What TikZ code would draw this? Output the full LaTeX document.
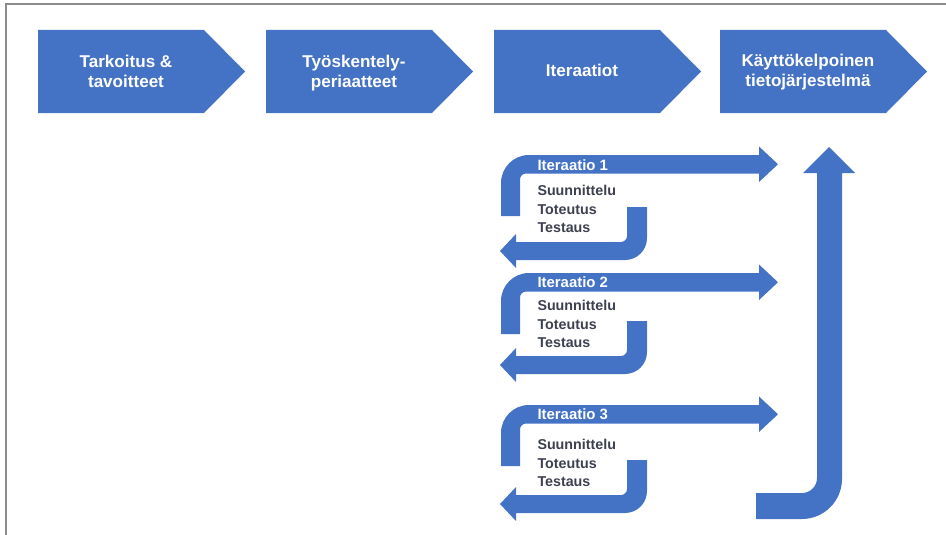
\documentclass[tikz,border=0pt]{standalone}
\usepackage{fontspec}
\setmainfont{Liberation Sans}
\usepackage{tikz}
\definecolor{arrowblue}{HTML}{4472C4}
\definecolor{framegray}{HTML}{8C8C8C}
\definecolor{listgray}{HTML}{3D4050}
\tikzset{every picture/.style={line width=0.75pt}}
\tikzset{
  blueshape/.style={fill=arrowblue,draw=none},
  headlabel/.style={text=white,inner sep=0.75pt,align=center,font=\fontsize{12.8}{15}\selectfont\bfseries},
  iterlabel/.style={text=white,inner sep=0.75pt,font=\fontsize{11.2}{12}\selectfont\bfseries},
  phaselist/.style={text=listgray,inner sep=0.75pt,align=left,font=\fontsize{10.7}{13.7}\selectfont\bfseries}
}

\begin{document}
\begin{tikzpicture}[x=0.75pt,y=0.75pt,yscale=-1,xscale=1]
\useasboundingbox (0,0) rectangle (946,535);
%frame
\draw [color=framegray,line width=1.5pt] (5,4) -- (946,4) ;
\draw [color=framegray,line width=1.5pt] (6,4) -- (6,535) ;
%phases
\draw [blueshape] (38,30) -- (204,30) -- (245,71.5) -- (204,113) -- (38,113) -- cycle ;
\draw [blueshape] (266,30) -- (432,30) -- (473,71.5) -- (432,113) -- (266,113) -- cycle ;
\draw [blueshape] (494,30) -- (660,30) -- (701,71.5) -- (660,113) -- (494,113) -- cycle ;
\draw [blueshape] (720,30) -- (886,30) -- (927,71.5) -- (886,113) -- (720,113) -- cycle ;
\draw (126,54) node (t1) [anchor=north][headlabel] {Tarkoitus \&\\tavoitteet};
\draw (354,54) node (t2) [anchor=north][headlabel] {Työskentely-\\periaatteet};
\draw (582,70) node (t3) [headlabel] {Iteraatiot};
\draw (808,53) node (t4) [anchor=north][headlabel] {Käyttökelpoinen\\tietojärjestelmä};
%iteration 1
\draw [blueshape] (501,216) -- (501,183) .. controls (501,167.5) and (513.5,155) .. (529,155) -- (759,155) -- (759,146.5) -- (778,164.25) -- (759,182) -- (759,173.5) -- (526,173.5) .. controls (522.7,173.5) and (520,176.2) .. (520,179.5) -- (520,216) -- cycle ;
\draw [blueshape] (627,207) -- (647,207) -- (647,238) .. controls (647,250.2) and (637.2,260) .. (625,260) -- (516,260) -- (516,268) -- (500,251) -- (516,234) -- (516,242) -- (621,242) .. controls (624.3,242) and (627,239.3) .. (627,236) -- cycle ;
\draw (536,165) node (it1) [anchor=west][iterlabel] {Iteraatio 1};
\draw (536,184) node (ph1) [anchor=north west][phaselist] {Suunnittelu\\Toteutus\\Testaus};
%iteration 2
\draw [blueshape] (501,334) -- (501,301) .. controls (501,285.5) and (513.5,273) .. (529,273) -- (759,273) -- (759,264.5) -- (778,282.25) -- (759,300) -- (759,291.5) -- (526,291.5) .. controls (522.7,291.5) and (520,294.2) .. (520,297.5) -- (520,334) -- cycle ;
\draw [blueshape] (627,321) -- (647,321) -- (647,352) .. controls (647,364.2) and (637.2,374) .. (625,374) -- (516,374) -- (516,382) -- (500,365) -- (516,348) -- (516,356) -- (621,356) .. controls (624.3,356) and (627,353.3) .. (627,350) -- cycle ;
\draw (536,282.5) node (it2) [anchor=west][iterlabel] {Iteraatio 2};
\draw (536,299) node (ph2) [anchor=north west][phaselist] {Suunnittelu\\Toteutus\\Testaus};
%iteration 3
\draw [blueshape] (501,466) -- (501,433) .. controls (501,417.5) and (513.5,405) .. (529,405) -- (759,405) -- (759,396.5) -- (778,414.25) -- (759,432) -- (759,423.5) -- (526,423.5) .. controls (522.7,423.5) and (520,426.2) .. (520,429.5) -- (520,466) -- cycle ;
\draw [blueshape] (627,460) -- (647,460) -- (647,491) .. controls (647,503.2) and (637.2,513) .. (625,513) -- (516,513) -- (516,521) -- (500,504) -- (516,487) -- (516,495) -- (621,495) .. controls (624.3,495) and (627,492.3) .. (627,489) -- cycle ;
\draw (536,414.5) node (it3) [anchor=west][iterlabel] {Iteraatio 3};
\draw (536,438) node (ph3) [anchor=north west][phaselist] {Suunnittelu\\Toteutus\\Testaus};
%final arrow
\draw [blueshape] (817,173) -- (803,173) -- (829,147) -- (855,173) -- (842,173) -- (842,479) .. controls (842,501) and (824,519) .. (802,519) -- (756,519) -- (756,493) -- (802,493) .. controls (810.3,493) and (817,486.3) .. (817,478) -- cycle ;
\end{tikzpicture}
\end{document}
